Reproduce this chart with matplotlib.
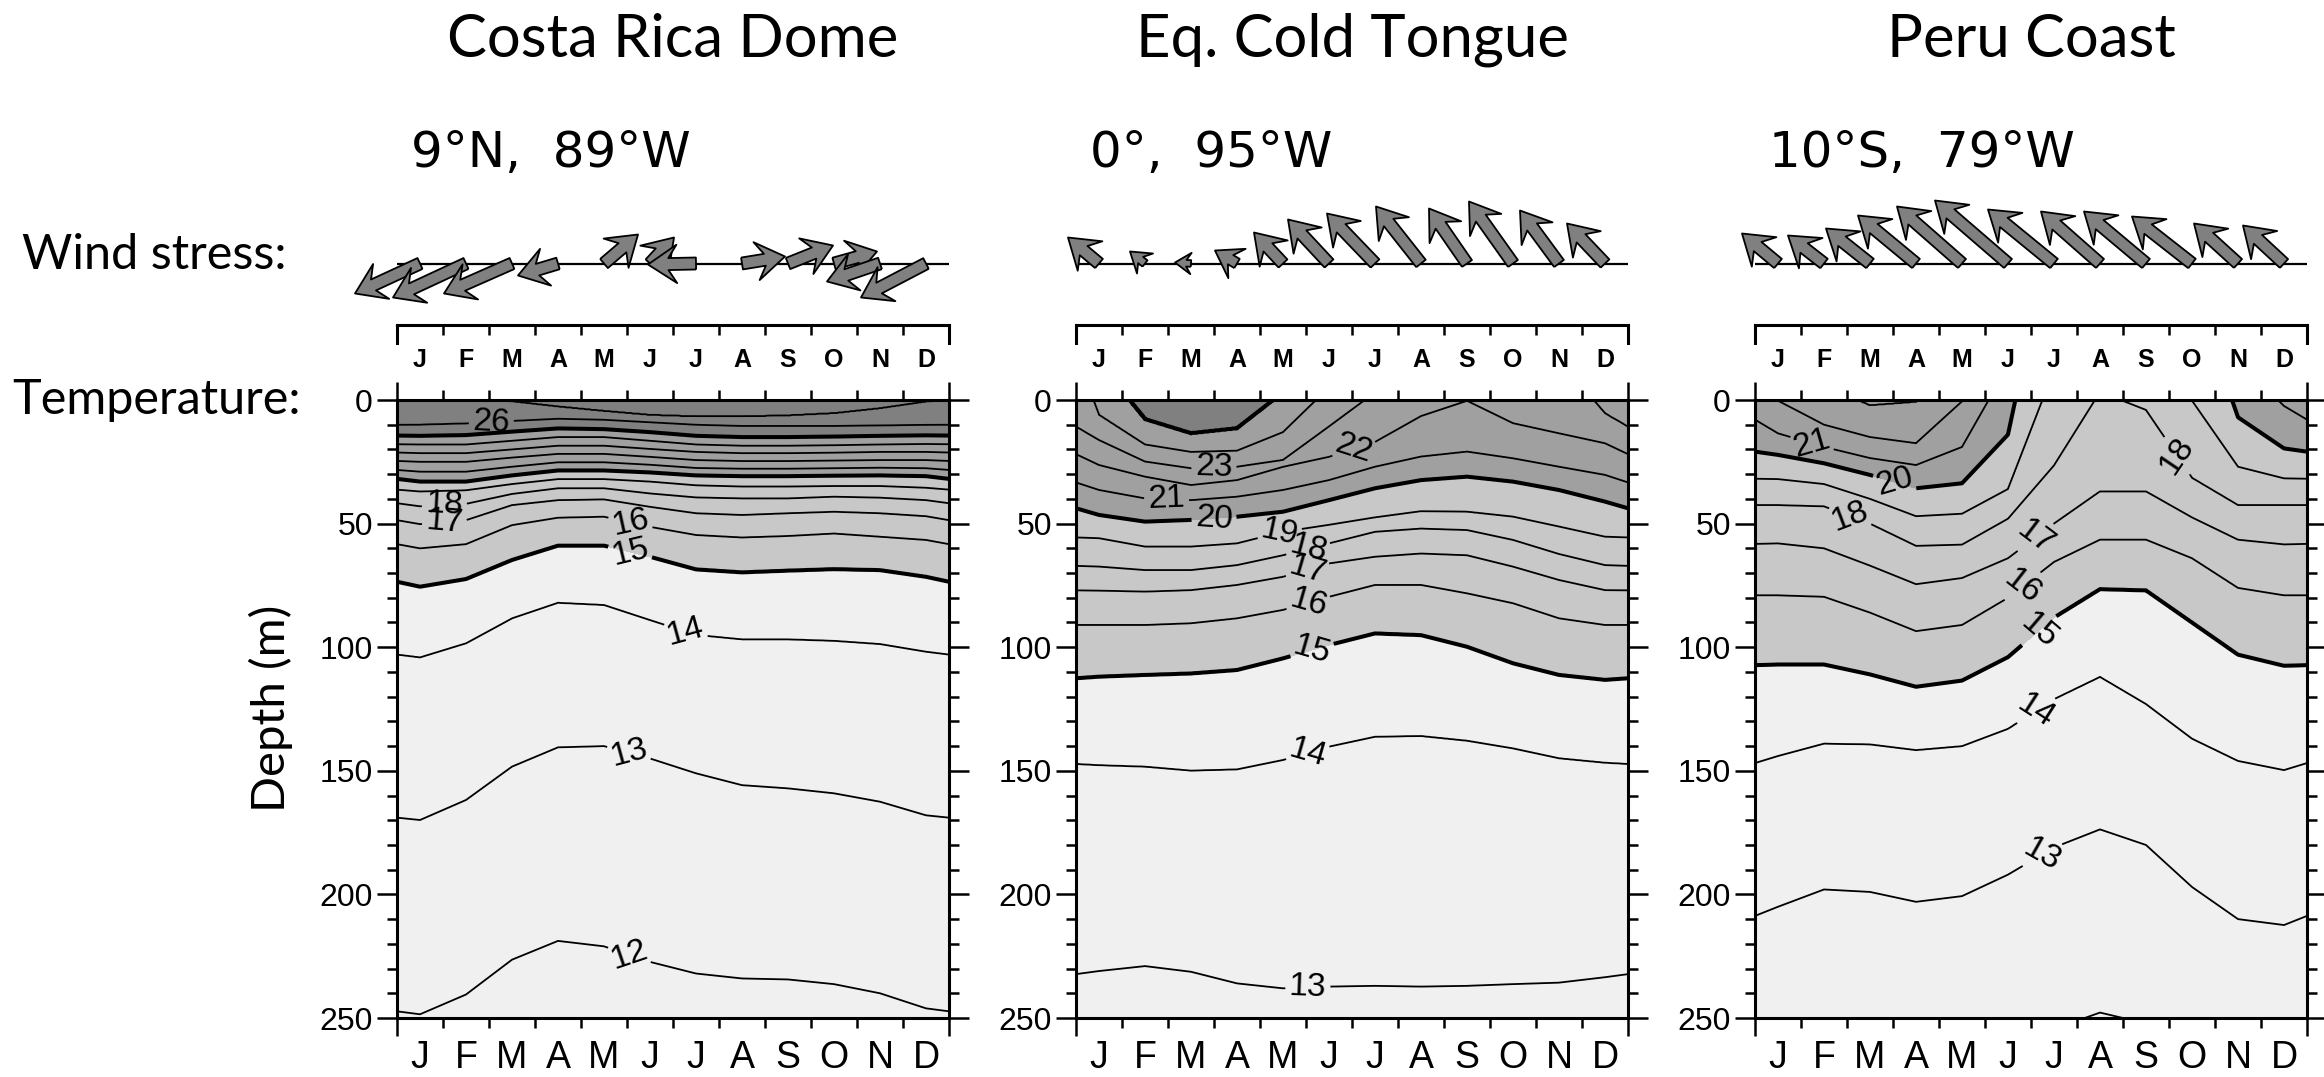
import numpy as np
import matplotlib
matplotlib.use("Agg")
import matplotlib.pyplot as plt

plt.rcParams['font.family'] = ['Liberation Sans', 'DejaVu Sans']

# ---------------- data ----------------
months = ["J", "F", "M", "A", "M", "J", "J", "A", "S", "O", "N", "D"]
titles = ["Costa Rica Dome", "Eq. Cold Tongue", "Peru Coast"]
positions = ["9°N,  89°W", "0°,  95°W", "10°S,  79°W"]

# wind stress (N/m2), Jan..Dec
taux_crd = [-0.065, -0.073, -0.068, -0.040, 0.034, 0.024, -0.048, 0.043, 0.045, 0.043, -0.053, -0.065]
tauy_crd = [-0.030, -0.034, -0.030, -0.012, 0.029, 0.026, -0.001, 0.007, 0.018, 0.012, -0.018, -0.034]
taux_eq = [-0.031, -0.015, -0.016, -0.022, -0.029, -0.041, -0.048, -0.045, -0.038, -0.044, -0.039, -0.038]
tauy_eq = [0.026, 0.012, 0.001, 0.013, 0.031, 0.044, 0.050, 0.057, 0.055, 0.062, 0.053, 0.040]
taux_peru = [-0.036, -0.036, -0.044, -0.058, -0.065, -0.073, -0.066, -0.059, -0.062, -0.060, -0.044, -0.041]
tauy_peru = [0.030, 0.028, 0.035, 0.048, 0.057, 0.063, 0.054, 0.052, 0.052, 0.047, 0.040, 0.038]

# isotherm depths (m) at mid-month, Jan..Dec  (negative = above the surface)
crd_levels = [28, 27, 26, 25, 24, 23, 22, 21, 20, 19, 18, 17, 16, 15, 14, 13, 12, 11]
crd_depth = [
    [-100] * 12,
    [-0.7, -0.8, 0.6, 2.7, 4.5, 6.1, 6.7, 6.7, 6.3, 5.4, 3.4, 0.7],
    [10, 9.5, 8.5, 7.6, 8, 9, 10, 10.5, 10.5, 10.5, 10.3, 10.1],
    [14.5, 14.2, 12.8, 11.5, 11.8, 13, 14.5, 15, 15, 14.8, 14.5, 14.3],
    [18, 18, 16.5, 15, 15, 16.5, 18, 18.5, 18.5, 18.3, 18, 17.8],
    [21.5, 21.5, 20, 18.5, 18.5, 19.8, 21, 21.5, 21.5, 21.3, 21, 21],
    [25, 25, 23.3, 21.8, 21.8, 23, 24.3, 24.7, 24.7, 24.5, 24.3, 24.3],
    [29, 29, 27, 25.2, 25.2, 26.2, 27.5, 27.8, 27.8, 27.6, 27.4, 27.6],
    [33, 33, 30.5, 28.5, 28.5, 29.3, 30.5, 30.8, 30.8, 30.6, 30.5, 30.8],
    [37, 36.5, 34, 32, 32, 33, 34.5, 35, 35, 34.8, 34.8, 35.5],
    [43, 42, 38, 35.7, 35.7, 37.8, 39.4, 39.8, 39.8, 39.1, 39.5, 40.5],
    [50.2, 48.6, 42.5, 40.5, 40.2, 43.2, 45.8, 46.5, 45.8, 45.2, 45.8, 47],
    [60, 58.3, 50.6, 47.6, 47.2, 51.3, 54.6, 55.6, 55, 54, 55.3, 56.6],
    [75.5, 72.4, 64.7, 58.9, 58.9, 63.4, 68.5, 69.7, 69, 68.4, 68.8, 71.5],
    [104.1, 98.4, 88.3, 82, 82.9, 89, 95, 96.8, 96.8, 97.4, 98.7, 101.8],
    [169.9, 161.8, 148.3, 140.5, 140, 145, 151, 155.8, 157.1, 159.1, 162.5, 168],
    [248.5, 240.5, 226.4, 218.8, 221, 227.3, 232, 234, 234.4, 236.3, 240, 246.1],
    [320] * 12,
]

eq_levels = [26, 25, 24, 23, 22, 21, 20, 19, 18, 17, 16, 15, 14, 13, 12]
eq_depth = [
    [-150] * 12,
    [-15, 7.8, 13.5, 11.5, -3, -60, -70, -80, -80, -80, -80, -70],
    [6, 18, 21, 20.5, 13, -5, -50, -60, -60, -60, -60, -44],
    [16.2, 24.9, 27.6, 27, 24.3, 10.7, -3, -8, -12, -14, -16.2, 5.4],
    [26.3, 31, 34.4, 32.4, 27, 23, 17, 6.5, 0.3, 9.4, 13.5, 17.5],
    [36.4, 39.8, 40.5, 39.1, 36.4, 32.4, 27, 22.9, 20.9, 23.6, 27, 30.3],
    [46.5, 49.2, 48.5, 47.2, 45.2, 40.5, 35.7, 32.4, 31, 33, 36.4, 41.1],
    [55.9, 59.3, 59.3, 58, 53.3, 50.5, 47.5, 45, 45.2, 47.2, 51.2, 55.3],
    [67.4, 68.8, 68.8, 66.8, 62.8, 58, 53.3, 52, 52.6, 56.6, 62.3, 66.8],
    [77.1, 77.5, 76.9, 74.8, 71.5, 66.1, 63.4, 62.1, 62.8, 67.4, 72.8, 76.9],
    [91, 91, 90.3, 88.3, 84.9, 79.6, 74.8, 74.8, 78.2, 82.2, 88.3, 91],
    [111.9, 111.2, 110.6, 109.2, 104.5, 99.1, 94.4, 95.1, 99.8, 106.5, 111.2, 113.2],
    [147.7, 148.3, 149.9, 149.4, 145.6, 140.2, 136.2, 135.9, 137.8, 140.9, 144.9, 146.7],
    [231, 229, 231.3, 236, 238, 237.3, 237, 237.3, 237, 236.3, 235.7, 233.5],
    [320] * 12,
]

peru_levels = [24, 23, 22, 21, 20, 19, 18, 17, 16, 15, 14, 13, 12, 11]
peru_depth = [
    [-150] * 12,
    [-20, -5.7, 2.2, 0.8, -8, -30, -110, -110, -100, -80, -35, -28],
    [0.3, 10, 15, 17.5, 0.5, -15, -100, -100, -90, -70, -25, -10],
    [13.5, 19, 23.5, 26.3, 19, -14, -90, -90, -80, -60, -16, 2.4],
    [22.2, 25.6, 30.3, 35.7, 33.7, 14, -73.5, -60, -50, -47, 7, 19.6],
    [32, 34, 40, 47, 46, 36, -12, -30, -20, 0.3, 27, 31.7],
    [42.5, 43, 50, 59, 58.5, 48, 26.5, -3.3, 4, 31.5, 42.5, 42.5],
    [58, 60, 67, 74.5, 72, 64, 50, 37, 37, 47.5, 56.5, 58.4],
    [79, 79.6, 86, 93.5, 91, 80, 65.5, 56.5, 56.5, 64, 76, 79],
    [107, 107, 111, 116, 113.5, 104, 88, 76.5, 77, 90, 103, 107.5],
    [144, 139, 139.3, 141.6, 140, 133, 121, 112, 123, 137, 146, 149.7],
    [205, 198, 199, 203, 200.7, 192, 181, 173.7, 180, 197, 210, 212.4],
    [265, 260, 261, 264, 262, 258, 254.4, 247.8, 252.2, 258, 268, 270],
    [330] * 12,
]


def temp_field(levels, depth):
    # temperature on a month x depth grid from the isotherm depths (periodic in time)
    xm = np.concatenate([[-0.5], np.arange(12) + 0.5, [12.5]])
    xf = np.linspace(0, 12, 481)
    zf = np.linspace(0, 250, 1001)
    d = np.asarray(depth, float)
    d = np.column_stack([d[:, -1], d, d[:, 0]])
    dx = np.array([np.interp(xf, xm, row) for row in d])
    lev = np.asarray(levels, float)
    T = np.empty((zf.size, xf.size))
    for j in range(xf.size):
        order = np.argsort(dx[:, j])
        T[:, j] = np.interp(zf, dx[order, j], lev[order])
    return xf, zf, T


panels = [
    (crd_levels, crd_depth, taux_crd, tauy_crd, list(range(12, 28)),
     [(2.05, 8.8), (1.03, 42.5), (1.03, 49.2), (5.07, 49.9), (5.07, 61.3),
      (6.26, 94.4), (5.04, 142.9), (5.04, 225.2)]),
    (eq_levels, eq_depth, taux_eq, tauy_eq, list(range(13, 26)),
     [(3.0, 28.3), (6.05, 20.5), (1.97, 40.0), (3.0, 47.9), (4.41, 52.5), (5.03, 59.0),
      (5.03, 68.5), (5.03, 81.0), (5.12, 100.5), (5.04, 142.9), (5.04, 237.3)]),
    (peru_levels, peru_depth, taux_peru, tauy_peru, list(range(12, 24)),
     [(1.24, 17.5), (3.03, 33.7), (2.06, 47.5), (6.06, 54.6), (5.7, 72.8),
      (6.1, 91.7), (6.1, 125.4), (9.05, 24.3), (6.25, 184.1)]),
]

# ---------------- figure ----------------
W, H = 2324, 1077
fig = plt.figure(figsize=(W / 100, H / 100), dpi=100)


def px_axes(x0, y0, x1, y1):
    return fig.add_axes([x0 / W, 1 - y1 / H, (x1 - x0) / W, (y1 - y0) / H])


lefts = [397, 1076, 1755]
pw = 552
shades = ['#f0f0f0', '#c8c8c8', '#a0a0a0', '#808080']
narrow = ['Liberation Sans Narrow', 'Liberation Sans']

for k, (levels, depth, tx, ty, draw_levels, lab_pos) in enumerate(panels):
    x0 = lefts[k]
    x1 = x0 + pw

    # titles
    fig.text((x0 + x1) / 2 / W, 1 - 40 / H, titles[k], ha='center', va='center',
             fontsize=43, family='Lato')
    fig.text((x0 + 14) / W, 1 - 153 / H, positions[k], ha='left', va='center',
             fontsize=36, family='DejaVu Sans')

    # wind stress arrows
    wax = px_axes(x0, 213.5, x1, 313.5)
    wax.set_xlim(0, 12)
    wax.set_ylim(-1, 1)
    wax.axis('off')
    wax.axhline(0, color='k', lw=1.6, zorder=1)
    q = wax.quiver(np.arange(12) + 0.5, np.zeros(12), tx, ty, pivot='tail',
                   angles='uv', scale_units='dots', scale=0.001, units='dots',
                   width=12, headwidth=3.2, headlength=2.4, headaxislength=1.7,
                   facecolor='#808080', edgecolor='k', linewidth=1.3, zorder=3)
    q.set_clip_on(False)

    # month strip
    sax = px_axes(x0, 325, x1, 343)
    sax.set_xlim(0, 12)
    sax.set_ylim(0, 1)
    sax.spines['bottom'].set_visible(False)
    for s in ['top', 'left', 'right']:
        sax.spines[s].set_linewidth(2.2)
    sax.set_yticks([])
    sax.set_xticks(range(1, 12))
    sax.tick_params(axis='x', bottom=False, top=True, direction='in', length=7.5,
                    width=1.8, labelbottom=False, labeltop=False)
    for i, m in enumerate(months):
        sax.text(i + 0.5, -0.95, m, ha='center', va='center', fontsize=18,
                 fontweight='bold', family=narrow)

    # temperature section
    ax = px_axes(x0, 400, x1, 1018)
    xf, zf, T = temp_field(levels, depth)
    ax.contourf(xf, zf, T, levels=[0, 15, 20, 25, 50], colors=shades)
    lws = [2.9 if lev % 5 == 0 else 1.3 for lev in draw_levels]
    cs = ax.contour(xf, zf, T, levels=draw_levels, colors='k', linewidths=lws)
    ax.clabel(cs, fmt='%d', fontsize=24, inline=True, inline_spacing=4,
              manual=lab_pos)
    ax.set_xlim(0, 12)
    ax.set_ylim(250, 0)
    for s in ax.spines.values():
        s.set_linewidth(2.2)
    ax.set_xticks([0, 12])
    ax.set_xticks(range(1, 12), minor=True)
    ax.tick_params(axis='x', which='both', top=True, bottom=True, direction='out',
                   width=1.8, labelbottom=False)
    ax.tick_params(axis='x', which='major', length=13)
    ax.tick_params(axis='x', which='minor', length=7.2)
    ax.set_yticks(range(0, 251, 50))
    ax.set_yticks(range(0, 251, 10), minor=True)
    ax.tick_params(axis='y', which='both', left=True, right=True, direction='out',
                   width=1.8)
    ax.tick_params(axis='y', which='major', length=14.4, labelsize=23, pad=3)
    ax.tick_params(axis='y', which='minor', length=7.2)
    for lab in ax.get_yticklabels():
        lab.set_family(narrow)
    for i, m in enumerate(months):
        ax.text(i + 0.5, -0.0809, m, transform=ax.get_xaxis_transform(),
                ha='center', va='baseline', fontsize=27, family=narrow)

fig.text(22 / W, 1 - 255 / H, "Wind stress:", ha='left', va='center', fontsize=35, family='Lato')
fig.text(12 / W, 1 - 400 / H, "Temperature:", ha='left', va='center', fontsize=35, family='Lato')
fig.text(271 / W, 1 - 708 / H, "Depth (m)", ha='center', va='center', rotation=90,
         fontsize=34, family='Lato')

fig.savefig("out.png", dpi=100)
